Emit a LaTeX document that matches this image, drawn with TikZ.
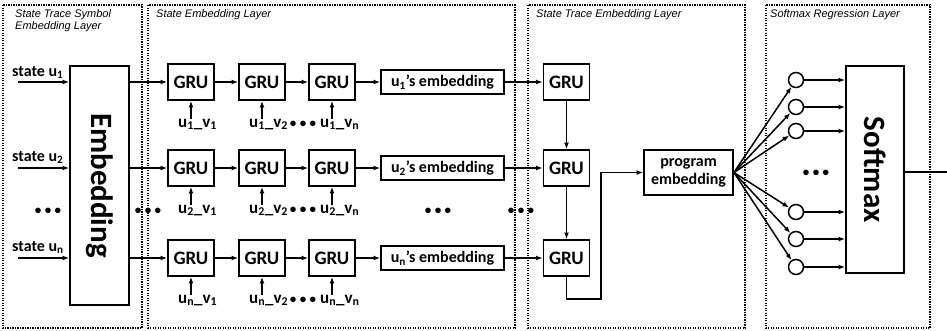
\documentclass[tikz,border=0pt]{standalone}
\usepackage{fontspec}
\setmainfont{Carlito}
\newfontfamily\ttlfont{Liberation Sans}
\usetikzlibrary{arrows.meta,calc}
\newcommand{\mydots}{\textbullet\hspace{3.5pt}\textbullet\hspace{3.5pt}\textbullet}
\begin{document}
\begin{tikzpicture}[x=1pt,y=-1pt,
 layer/.style={draw, line width=1.6pt, dash pattern=on 1.2pt off 1.3pt},
 ttl/.style={font=\ttlfont\itshape\fontsize{11}{12.5}\selectfont, anchor=north west, align=left, inner sep=0},
 gru/.style={draw, line width=1.8pt, minimum width=46pt, minimum height=36pt, font=\bfseries\fontsize{19}{20}\selectfont, inner sep=0},
 emb/.style={draw, line width=1.8pt, minimum width=123pt, minimum height=24pt, font=\bfseries\fontsize{16}{18}\selectfont, inner sep=0},
 lbl/.style={font=\bfseries\fontsize{17}{18}\selectfont, inner sep=0, anchor=base west},
 stl/.style={font=\bfseries\fontsize{16}{18}\selectfont, inner sep=0, anchor=base west},
 arr/.style={-{Latex[length=6.5pt,width=5pt]}, line width=1.5pt},
 ln/.style={line width=1.5pt},
 dots/.style={font=\bfseries\fontsize{13}{14}\selectfont, inner sep=0, anchor=base},
 circ/.style={draw, circle, line width=1.5pt, minimum size=15pt, inner sep=0},
 bigbox/.style={draw, line width=1.8pt, inner sep=0},
 bigtxt/.style={font=\bfseries\fontsize{31}{31}\selectfont, rotate=-90, inner sep=0}
]
\useasboundingbox (0,0) rectangle (947,330);
% layers
\draw[layer] (3,5) rectangle (142,328);
\draw[layer] (148,5) rectangle (515,328);
\draw[layer] (528,5) rectangle (745,328);
\draw[layer] (766,5) rectangle (930,328);
\node[ttl] (t-a) at (15,9) {State Trace Symbol\\Embedding Layer};
\node[ttl] (t-b) at (156,9) {State Embedding Layer};
\node[ttl] (t-c) at (536,9) {State Trace Embedding Layer};
\node[ttl] (t-d) at (770,9) {Softmax Regression Layer};
% embedding
\node[bigbox, minimum width=59pt, minimum height=239pt] (E) at (99.5,185.5) {};
\node[bigtxt] (Et) at (E.center) {Embedding};
% state labels
\node[stl] (s1l) at (12,76) {state u\textsubscript{1}};
\node[stl] (s2l) at (12,161) {state u\textsubscript{2}};
\node[stl] (s3l) at (12,251) {state u\textsubscript{n}};
\coordinate (s1) at (18,82);
\coordinate (s2) at (18,168);
\coordinate (s3) at (18,258);
\draw[arr] (s1) -- (s1 -| E.west);
\draw[arr] (s2) -- (s2 -| E.west);
\draw[arr] (s3) -- (s3 -| E.west);
\node[dots] (d1) at (48,214) {\mydots};
\node[dots] (d2) at (148,214) {\mydots};
\node[dots] (d3) at (438,214) {\mydots};
\node[dots] (d4) at (521,214) {\mydots};
% GRU rows
\foreach \r/\y/\s in {1/82/1,2/168/2,3/258/n}{
  \node[gru] (g\r1) at (191,\y) {GRU};
  \node[gru] (g\r2) at (262,\y) {GRU};
  \node[gru] (g\r3) at (332,\y) {GRU};
  \node[emb] (e\r) at (442.5,\y) {u\textsubscript{\s}’s embedding};
  \node[gru] (t\r) at (566.5,\y) {GRU};
  \draw[arr] (g\r1.west -| E.east) -- (g\r1.west);
  \draw[arr] (g\r1) -- (g\r2);
  \draw[arr] (g\r2) -- (g\r3);
  \draw[arr] (g\r3) -- (e\r);
  \draw[arr] (e\r) -- (t\r);
  \node[lbl] (l\r1) at (178,\y+45) {u\textsubscript{\s}\_v\textsubscript{1}};
  \node[lbl] (l\r2) at (249,\y+45) {u\textsubscript{\s}\_v\textsubscript{2}};
  \node[lbl] (l\r3) at (320,\y+45) {u\textsubscript{\s}\_v\textsubscript{n}};
  \node[dots] (ld\r) at (303,\y+45) {\mydots};
  \draw[arr] (g\r1.south |- l\r1.north) -- (g\r1.south);
  \draw[arr] (g\r2.south |- l\r2.north) -- (g\r2.south);
  \draw[arr] (g\r3.south |- l\r3.north) -- (g\r3.south);
}
\draw[arr] (t1) -- (t2);
\draw[arr] (t2) -- (t3);
% program embedding
\node[draw, line width=1.8pt, minimum width=89pt, minimum height=45pt, inner sep=0, align=center, font=\bfseries\fontsize{16}{18}\selectfont] (pe) at (688.5,172.5) {program\\embedding};
\coordinate (fb) at (601,299);
\draw[arr] (t3.south) |- (fb) |- (pe.west);
% softmax
\node[bigbox, minimum width=58pt, minimum height=207pt] (S) at (875,169.5) {};
\node[bigtxt] (St) at (S.center) {Softmax};
\foreach \i/\y in {1/80,2/107,3/131,4/212,5/239,6/267}{
  \node[circ] (c\i) at (796,\y) {};
  \draw[arr] (pe.east) -- (c\i);
  \draw[arr] (c\i.east) -- (c\i.east -| S.west);
}
\node[dots] (d5) at (816,176) {\mydots};
\coordinate (out) at (947,172);
\draw[ln] (S.east |- out) -- (out);
\end{tikzpicture}
\end{document}
